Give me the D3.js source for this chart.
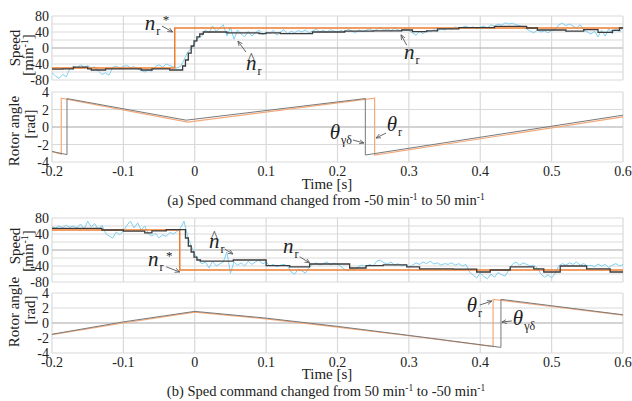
<!DOCTYPE html>
<html>
<head>
<meta charset="utf-8">
<script src="https://cdn.jsdelivr.net/npm/d3@7"></script>
<style>
body { margin: 0; background: #fff; }
text { font-family: "Liberation Serif", "Times New Roman", serif; fill: #222; }
</style>
</head>
<body>
<svg id="chart" width="632" height="401"></svg>
<script>
// ---- data ----
const xTicks = [-0.2, -0.1, 0, 0.1, 0.2, 0.3, 0.4, 0.5, 0.6];
const speedGrid = [-80, -60, -40, -20, 0, 20, 40, 60, 80];
const speedLabels = [-80, -40, 0, 40, 80];
const angleGrid = [-4, -2, 0, 2, 4];

// speed command n_r* (step)
const cmdTimeA = [-0.2, -0.028, 0.6];
const cmdSpeedA = [-50, 50, 50];
const cmdTimeB = [-0.2, -0.021, 0.6];
const cmdSpeedB = [50, -50, -50];

// estimated speed (stair line)
const estTimeA = [-0.2, -0.185, -0.17, -0.15, -0.145, -0.125, -0.075, -0.06, -0.035, -0.017, -0.013, -0.009, -0.005, -0.001, 0.003, 0.007, 0.012, 0.045, 0.09, 0.1, 0.12, 0.165, 0.21, 0.25, 0.29, 0.305, 0.325, 0.34, 0.37, 0.42, 0.465, 0.48, 0.52, 0.545, 0.565, 0.585, 0.595, 0.6];
const estSpeedA = [-53, -52, -48, -52, -55, -52, -55, -52, -55, -45, -30, -13, 5, 18, 28, 35, 40, 38, 36, 38, 36, 40, 42, 43, 45, 41, 43, 48, 51, 54, 50, 45, 42, 46, 39, 44, 50, 50];
const estTimeB = [-0.2, -0.13, -0.1, -0.07, -0.06, -0.04, -0.013, -0.009, -0.005, -0.001, 0.003, 0.008, 0.054, 0.1, 0.133, 0.161, 0.217, 0.24, 0.264, 0.297, 0.315, 0.362, 0.395, 0.414, 0.442, 0.475, 0.489, 0.512, 0.549, 0.582, 0.6];
const estSpeedB = [54, 50, 47, 43, 48, 51, 30, 10, -5, -18, -25, -28, -25, -39, -42, -35, -45, -39, -37, -42, -47, -48, -55, -50, -42, -47, -55, -40, -47, -55, -55];

// measured speed n_r, sampled every 5 ms from -0.2 s to 0.6 s
const measSpeedA = [
  -62, -70, -76, -66, -72, -52, -46, -50, -42, -48, -44, -50, -47, -58, -66, -62, -68, -48, -45, -50,
  -46, -44, -49, -47, -52, -56, -60, -55, -58, -46, -42, -48, -40, -44, -47, -50, -46, -30, -10, -2,
  12, 25, 30, 45, 38, 55, 42, 50, 58, 30, 52, 22, 45, 35, 28, 42, 30, 38, 45, 33,
  40, 36, 44, 32, 40, 46, 35, 42, 38, 44, 40, 45, 38, 42, 48, 40, 44, 39, 46, 42,
  40, 44, 40, 47, 42, 38, 45, 41, 44, 48, 42, 46, 52, 44, 48, 42, 50, 45, 43, 48,
  44, 38, 32, 42, 36, 44, 40, 46, 42, 48, 45, 50, 47, 53, 49, 52, 55, 50, 53, 48,
  52, 55, 50, 58, 54, 60, 57, 63, 60, 62, 58, 56, 52, 48, 42, 38, 45, 40, 43, 38,
  44, 46, 58, 62, 56, 60, 55, 50, 58, 45, 40, 35, 42, 28, 45, 30, 48, 35, 50, 40,
  52];
const measSpeedB = [
  58, 55, 60, 56, 62, 57, 60, 55, 65, 52, 72, 58, 66, 50, 62, 42, 35, 30, 45, 38,
  48, 62, 72, 55, 68, 50, 60, 40, 35, 42, 30, 38, 34, 44, 40, 46, 55, 72, 35, 10,
  -10, -25, -35, -30, -45, -28, -40, -35, -30, -5, -58, -30, -38, -32, -40, -28, -36, -30, -25, -35,
  -30, -40, -36, -42, -38, -36, -40, -55, -60, -48, -52, -58, -44, -36, -32, -38, -34, -30, -37, -33,
  -35, -42, -48, -52, -46, -50, -40, -38, -42, -36, -40, -28, -25, -32, -35, -30, -38, -34, -40, -36,
  -42, -38, -32, -36, -30, -34, -28, -35, -32, -38, -34, -36, -32, -38, -34, -40, -36, -55, -62, -70,
  -58, -66, -72, -60, -68, -56, -62, -65, -50, -36, -30, -38, -32, -36, -40, -38, -45, -60, -68, -62,
  -70, -58, -40, -34, -38, -32, -36, -30, -38, -34, -40, -38, -42, -35, -40, -36, -44, -38, -34, -40,
  -36];

// rotor angle breakpoints: theta_r (orange) and theta_gd (gray)
const thetaRTimeA = [-0.2, -0.187, -0.187, -0.01, 0.252, 0.252, 0.6];
const thetaRA = [-2.8, -3.1, 3.3, 0.55, 3.3, -3.2, 1.15];
const thetaGTimeA = [-0.2, -0.179, -0.179, -0.012, 0.239, 0.239, 0.6];
const thetaGA = [-2.8, -3.15, 3.25, 0.78, 3.25, -3.2, 1.35];
const thetaRTimeB = [-0.2, -0.1, 0.0, 0.1, 0.2, 0.3, 0.418, 0.418, 0.5, 0.6];
const thetaRB = [-1.55, 0.0, 1.45, 0.55, -0.55, -1.7, -3.15, 3.15, 2.2, 1.05];
const thetaGTimeB = [-0.2, -0.1, 0.0, 0.1, 0.2, 0.3, 0.429, 0.429, 0.5, 0.6];
const thetaGB = [-1.5, 0.15, 1.55, 0.65, -0.45, -1.65, -3.25, 3.15, 2.3, 1.1];

// ---- drawing ----
const svg = d3.select("#chart");
const x = d3.scaleLinear().domain([-0.2, 0.6]).range([52, 623]);

const ySpdA = d3.scaleLinear().domain([-80, 80]).range([80, 16]);
const yAngA = d3.scaleLinear().domain([-4, 4]).range([162, 92]);
const ySpdB = d3.scaleLinear().domain([-80, 80]).range([282, 218]);
const yAngB = d3.scaleLinear().domain([-4, 4]).range([353, 293]);

const fmtX = d => d === 0 ? "0" : d.toFixed(1);

function drawGrid(y, gridVals, labelVals, showX) {
  const g = svg.append("g");
  const [y0, y1] = y.range();
  g.selectAll(".vg").data(xTicks).enter().append("line")
    .attr("x1", d => x(d)).attr("x2", d => x(d))
    .attr("y1", y0).attr("y2", y1)
    .attr("stroke", "#d9d9d9").attr("stroke-width", 1.2);
  g.selectAll(".hg").data(gridVals).enter().append("line")
    .attr("x1", x.range()[0]).attr("x2", x.range()[1])
    .attr("y1", d => y(d)).attr("y2", d => y(d))
    .attr("stroke", d => d === 0 ? "#c4c4c4" : "#d9d9d9")
    .attr("stroke-width", d => d === 0 ? 1.6 : 1.2);
  g.selectAll(".yl").data(labelVals).enter().append("text")
    .attr("x", 49).attr("y", d => y(d) + 5)
    .attr("text-anchor", "end").attr("font-size", 14)
    .text(d => d);
  if (showX) {
    g.selectAll(".xl").data(xTicks).enter().append("text")
      .attr("x", d => x(d)).attr("y", y0 + 14)
      .attr("text-anchor", "middle").attr("font-size", 14)
      .text(fmtX);
  }
}

function drawLine(y, ts, vs, color, width, curve) {
  const pts = ts.map((t, i) => [t, vs[i]]);
  svg.append("path").datum(pts)
    .attr("fill", "none").attr("stroke", color).attr("stroke-width", width)
    .attr("d", d3.line().x(d => x(d[0])).y(d => y(d[1])).curve(curve || d3.curveLinear));
}

const sampleTimes = measSpeedA.map((v, i) => -0.2 + i * 0.005);

// panel (a)
drawGrid(ySpdA, speedGrid, speedLabels, false);
drawLine(ySpdA, sampleTimes, measSpeedA, "#7fd0f2", 1);
drawLine(ySpdA, cmdTimeA, cmdSpeedA, "#ed7d31", 1.5, d3.curveStepAfter);
drawLine(ySpdA, estTimeA, estSpeedA, "#3b3b3b", 1.3, d3.curveStepAfter);
drawGrid(yAngA, angleGrid, angleGrid, true);
drawLine(yAngA, thetaRTimeA, thetaRA, "#f4a97a", 1.2);
drawLine(yAngA, thetaGTimeA, thetaGA, "#7a7a7a", 1);

// panel (b)
drawGrid(ySpdB, speedGrid, speedLabels, false);
drawLine(ySpdB, sampleTimes, measSpeedB, "#7fd0f2", 1);
drawLine(ySpdB, cmdTimeB, cmdSpeedB, "#ed7d31", 1.5, d3.curveStepAfter);
drawLine(ySpdB, estTimeB, estSpeedB, "#3b3b3b", 1.3, d3.curveStepAfter);
drawGrid(yAngB, angleGrid, angleGrid, true);
drawLine(yAngB, thetaRTimeB, thetaRB, "#f4a97a", 1.2);
drawLine(yAngB, thetaGTimeB, thetaGB, "#7a7a7a", 1);

// axis titles
function yTitle(px, py, parts) {
  const t = svg.append("text")
    .attr("transform", `translate(${px},${py}) rotate(-90)`)
    .attr("text-anchor", "middle").attr("font-size", 15);
  parts.forEach(p => {
    t.append("tspan").attr("dy", p.dy || 0).attr("font-size", p.size || 15).text(p.s);
  });
}
yTitle(20, 48, [{ s: "Speed" }]);
yTitle(33, 55, [{ s: "[min" }, { s: "-1", dy: -5, size: 10 }, { s: "]", dy: 5 }]);
yTitle(19, 131, [{ s: "Rotor angle" }]);
yTitle(35, 124, [{ s: "[rad]" }]);
yTitle(20, 246, [{ s: "Speed" }]);
yTitle(33, 251, [{ s: "[min" }, { s: "-1", dy: -5, size: 10 }, { s: "]", dy: 5 }]);
yTitle(19, 312, [{ s: "Rotor angle" }]);
yTitle(35, 310, [{ s: "[rad]" }]);

svg.append("text").attr("x", 327).attr("y", 189).attr("text-anchor", "middle")
  .attr("font-size", 15).text("Time [s]");
svg.append("text").attr("x", 327).attr("y", 379).attr("text-anchor", "middle")
  .attr("font-size", 15).text("Time [s]");

function caption(py, a, b, label) {
  const t = svg.append("text").attr("x", 326).attr("y", py)
    .attr("text-anchor", "middle").attr("font-size", 14.5);
  t.append("tspan").text(`${label} Sped command changed from ${a} min`);
  t.append("tspan").attr("dy", -5).attr("font-size", 9.5).text("-1");
  t.append("tspan").attr("dy", 5).text(` to ${b} min`);
  t.append("tspan").attr("dy", -5).attr("font-size", 9.5).text("-1");
}
caption(205, "-50", "50", "(a)");
caption(396, "50", "-50", "(b)");

// annotations, placed in data units of each panel
svg.append("defs").append("marker")
  .attr("id", "arr").attr("viewBox", "0 0 10 10").attr("refX", 9).attr("refY", 5)
  .attr("markerWidth", 6).attr("markerHeight", 6).attr("orient", "auto")
  .append("path").attr("d", "M0,1 L9,5 L0,9").attr("fill", "none")
  .attr("stroke", "#555").attr("stroke-width", 1.4);

function arrow(y, t0, v0, t1, v1) {
  svg.append("line")
    .attr("x1", x(t0)).attr("y1", y(v0)).attr("x2", x(t1)).attr("y2", y(v1))
    .attr("stroke", "#555").attr("stroke-width", 0.9).attr("marker-end", "url(#arr)");
}
function symbol(y, t, v, main, sub, opts) {
  opts = opts || {};
  const px = x(t), py = y(v);
  const txt = svg.append("text").attr("x", px).attr("y", py);
  txt.append("tspan").attr("font-style", "italic").attr("font-size", 21).text(main);
  txt.append("tspan").attr("dx", opts.subDx || 1).attr("dy", 5).attr("font-size", 12).text(sub);
  if (opts.star) {
    svg.append("text").attr("x", px + 18).attr("y", py - 6).attr("font-size", 13).text("*");
  }
  if (opts.hat) {
    svg.append("text").attr("x", px + 2).attr("y", py - 7).attr("font-size", 14).text("^");
  }
}

symbol(ySpdA, -0.070, 45, "n", "r", { star: true });
arrow(ySpdA, -0.046, 55, -0.031, 40);
symbol(ySpdA, 0.0717, -55, "n", "r", { hat: true });
arrow(ySpdA, 0.0717, -10, 0.0605, 17);
symbol(ySpdA, 0.293, -27, "n", "r");
arrow(ySpdA, 0.297, 7, 0.289, 33);

symbol(yAngA, 0.189, -1.37, "θ", "γδ");
arrow(yAngA, 0.2216, -1.49, 0.237, -1.83);
symbol(yAngA, 0.269, -0.46, "θ", "r");
arrow(yAngA, 0.268, -0.69, 0.254, -1.26);

symbol(ySpdB, -0.0655, -40, "n", "r", { star: true });
arrow(ySpdB, -0.040, -42, -0.021, -55);
symbol(ySpdB, 0.020, 5, "n", "r", { hat: true });
arrow(ySpdB, 0.0423, 2, 0.0535, -10);
symbol(ySpdB, 0.1235, -7, "n", "r");
arrow(ySpdB, 0.147, -17, 0.161, -32);

symbol(yAngB, 0.381, 1.47, "θ", "r");
arrow(yAngB, 0.3994, 2.4, 0.4162, 2.93);
symbol(yAngB, 0.4457, -0.27, "θ", "γδ");
arrow(yAngB, 0.4443, 0.27, 0.4303, 0.13);
</script>
</body>
</html>
